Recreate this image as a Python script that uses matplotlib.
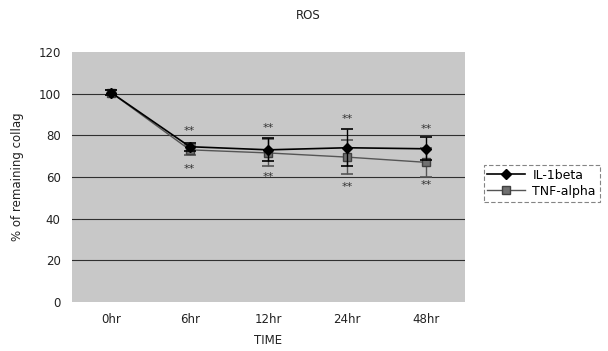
import matplotlib
matplotlib.use("Agg")
import matplotlib.pyplot as plt
from matplotlib.lines import Line2D
import numpy as np

categories = ["0hr", "6hr", "12hr", "24hr", "48hr"]
il1beta = [100.5, 74.5, 73.0, 74.0, 73.5]
il1beta_err = [1.0, 2.0, 5.5, 9.0, 5.5]
tnf_alpha = [100.5, 73.0, 71.5, 69.5, 67.0]
tnf_alpha_err = [1.0, 2.5, 6.5, 8.0, 7.0]
stars_upper = [None, 82, 83.5, 88, 83]
stars_lower = [None, 64, 60, 55, 56]
yticks = [0, 20, 40, 60, 80, 100, 120]

fig = plt.figure(figsize=(6.08, 3.51), dpi=100)
ax = fig.add_axes([0.118, 0.14, 0.647, 0.712])
ax.set_facecolor("#c8c8c8")
x = np.arange(len(categories))

for yv in yticks[1:-1]:
    ax.axhline(yv, color="#303030", lw=0.8, zorder=1)

ax.errorbar(x, il1beta, yerr=il1beta_err, color="black", lw=1.2, marker="D",
            ms=5, capsize=4, capthick=1.2, elinewidth=1.0, zorder=4)
ax.errorbar(x, tnf_alpha, yerr=tnf_alpha_err, color="#555555", lw=1.0, marker="s",
            ms=6, mfc="#707070", mec="#404040", capsize=4, capthick=1.2,
            elinewidth=1.0, zorder=3)

for xi, (u, l) in enumerate(zip(stars_upper, stars_lower)):
    if u is not None:
        ax.text(xi, u, "**", ha="center", va="center", fontsize=8, color="#333333")
    if l is not None:
        ax.text(xi, l, "**", ha="center", va="center", fontsize=8, color="#333333")

ax.set_xlim(-0.5, 4.5)
ax.set_ylim(0, 120)
ax.set_xticks(x)
ax.set_xticklabels(categories)
ax.set_yticks(yticks)
ax.tick_params(axis="both", length=0, labelsize=8.5, colors="#222222", pad=8)
for s in ax.spines.values():
    s.set_visible(False)
ax.set_xlabel("TIME", fontsize=8.5, color="#222222", labelpad=6)
ax.set_ylabel("% of remaining collag", fontsize=8.5, color="#222222", labelpad=10)
fig.text(0.507, 0.955, "ROS", ha="center", va="center", fontsize=8.5, color="#222222")

handles = [
    Line2D([], [], color="black", lw=1.2, marker="D", ms=5),
    Line2D([], [], color="#555555", lw=1.0, marker="s", ms=6, mfc="#707070", mec="#404040"),
]
leg = fig.legend(handles, ["IL-1beta", "TNF-alpha"], loc="center left",
                 bbox_to_anchor=(0.785, 0.478), frameon=True,
                 fontsize=9, handlelength=3.0, borderpad=0.3, labelspacing=0.25,
                 handletextpad=0.6, fancybox=False, edgecolor="#666666")
leg.get_frame().set_linewidth(0.8)
leg.get_frame().set_linestyle((0, (4, 2)))

fig.savefig("out.png", dpi=100)
